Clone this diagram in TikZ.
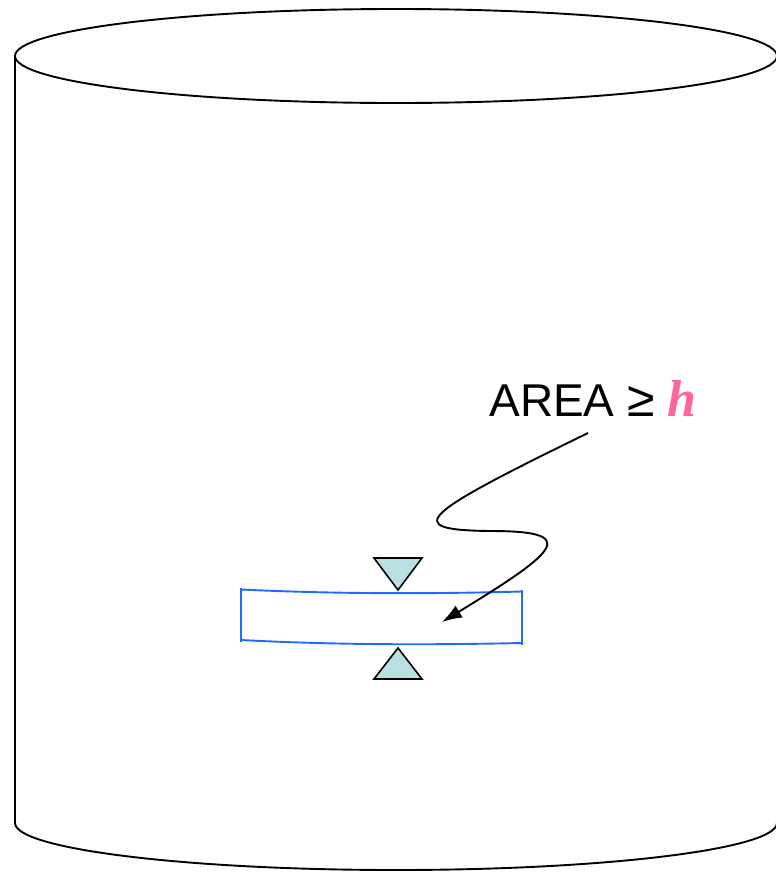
\documentclass[tikz,border=0pt]{standalone}
\usepackage{fontspec}
\setmainfont{Liberation Sans}
\newfontfamily\serifbi{Liberation Serif}[BoldItalicFont={* Bold Italic}]
\usetikzlibrary{arrows.meta}
\definecolor{bandblue}{HTML}{1F6BFF}
\definecolor{wedgefill}{HTML}{B9E0E3}
\definecolor{hpink}{HTML}{FF6699}
\tikzset{
  outline/.style={line width=1.9pt, black},
  band/.style={line width=1.9pt, bandblue},
  wedge/.style={line width=1.6pt, black, fill=wedgefill, line join=miter},
  pointer/.style={line width=1.9pt, black, -{Latex[length=20pt,width=14pt]}},
  lbl/.style={font=\fontsize{46}{52}\selectfont, inner sep=0pt, anchor=base}
}
\begin{document}
\begin{tikzpicture}[x=1pt,y=-1pt]
  \useasboundingbox (0,0) rectangle (776,873);
  % cylinder
  \draw[outline] (396,56) ellipse [x radius=381, y radius=47];
  \draw[outline] (15,56) -- (15,823) arc [start angle=180, end angle=360, x radius=381, y radius=-47] -- (777,56);
  % band between the two wedges
  \draw[band] (241,589.5) .. controls (335,594) and (430,594) .. (522,591.5);
  \draw[band] (241,640) .. controls (335,645) and (430,645) .. (522,643);
  \draw[band] (241,588) -- (241,642);
  \draw[band] (522,590) -- (522,645);
  % wedges
  \draw[wedge] (374,558) -- (422,558) -- (398,590) -- cycle;
  \draw[wedge] (374,679) -- (422,679) -- (398,648) -- cycle;
  % label
  \node[lbl] (label) at (593,416) {AREA {\fontsize{50}{52}\selectfont≥} {\serifbi\bfseries\itshape\fontsize{52}{52}\selectfont\color{hpink}h}};
  \coordinate (target) at (442,622);
  \draw[pointer] ([xshift=-5pt,yshift=-17pt]label.base) .. controls (420,515) and (400,530) .. (490,531)
      .. controls (580,531) and (560,550) .. (target);
\end{tikzpicture}
\end{document}
